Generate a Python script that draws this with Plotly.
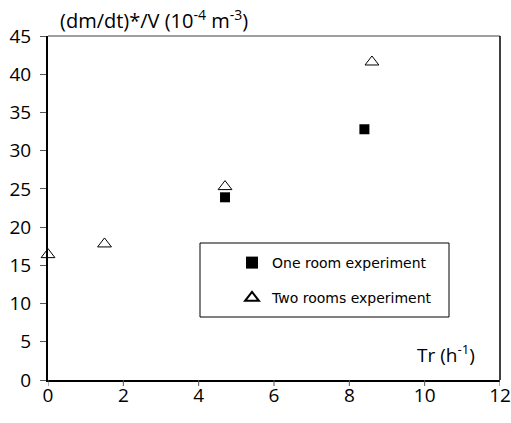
import plotly.graph_objects as go

# Ventilation rate Tr (h^-1) and normalised mass rate (dm/dt)*/V (10^-4 m^-3)
one_room_tr = [4.7, 8.4]
one_room_rate = [23.9, 32.8]
two_rooms_tr = [0.0, 1.5, 4.7, 8.6]
two_rooms_rate = [16.4, 17.8, 25.3, 41.6]

x_ticks = [0, 2, 4, 6, 8, 10, 12]
y_ticks = [0, 5, 10, 15, 20, 25, 30, 35, 40, 45]

FONT = "Open Sans"

# plot area in pixels
L, R, T, B = 48, 500, 36, 380
PW, PH = R - L, B - T
TICK_LEN = 6


def px_x(p):
    return (p - L) / PW


def px_y(p):
    return (B - p) / PH


fig = go.Figure()
fig.add_trace(go.Scatter(
    x=one_room_tr, y=one_room_rate, mode="markers", name="One room experiment",
    legendgroup="a",
    marker=dict(symbol="square", size=10, color="black", line=dict(width=0)),
    cliponaxis=False,
))
fig.add_trace(go.Scatter(
    x=two_rooms_tr, y=two_rooms_rate, mode="markers", name="Two rooms experiment",
    legendgroup="b",
    marker=dict(symbol="triangle-up-open", size=12, color="black", line=dict(width=1)),
    cliponaxis=False,
))

# x tick marks hanging below the axis line
x_tick_marks = [
    dict(type="line", xref="x", yref="paper", x0=v, x1=v, y0=0, y1=-TICK_LEN / PH,
         line=dict(color="#555", width=1))
    for v in x_ticks
]

fig.update_layout(
    width=511, height=423,
    margin=dict(l=L, r=511 - R, t=T, b=423 - B, autoexpand=False),
    paper_bgcolor="white", plot_bgcolor="white",
    font=dict(family=FONT, size=19, color="black"),
    showlegend=True,
    legend=dict(
        x=px_x(232), y=px_y(247), xanchor="left", yanchor="top",
        bgcolor="rgba(0,0,0,0)", borderwidth=0,
        font=dict(family="DejaVu Sans", size=14),
        tracegroupgap=14, itemsizing="constant",
    ),
    xaxis=dict(
        range=[0, 12], tickvals=x_ticks, showgrid=False, zeroline=False,
        showline=True, linecolor="black", linewidth=1.5, automargin=False,
        ticks="", tickfont=dict(size=19), ticklabelstandoff=-3,
    ),
    yaxis=dict(
        range=[0, 45], tickvals=y_ticks, showgrid=False, zeroline=False,
        showline=True, linecolor="black", linewidth=2, automargin=False,
        ticks="outside", ticklen=TICK_LEN, tickcolor="#555", tickwidth=1,
        tickfont=dict(size=19), ticklabelstandoff=5,
    ),
    shapes=[
        # top and right frame lines
        dict(type="line", xref="paper", yref="paper", x0=0, x1=1, y0=1, y1=1,
             line=dict(color="#808080", width=1.5)),
        dict(type="line", xref="paper", yref="paper", x0=1, x1=1, y0=0, y1=1,
             line=dict(color="black", width=1.5)),
        # legend box
        dict(type="rect", xref="paper", yref="paper",
             x0=px_x(200), x1=px_x(449), y0=px_y(317), y1=px_y(243),
             line=dict(color="black", width=1), fillcolor="rgba(0,0,0,0)"),
    ] + x_tick_marks,
    annotations=[
        dict(text="(dm/dt)*/V (10<sup>-4</sup> m<sup>-3</sup>)", xref="paper", yref="paper",
             x=px_x(154), y=px_y(20), xanchor="center", yanchor="middle",
             showarrow=False, font=dict(size=20)),
        dict(text="Tr (h<sup>-1</sup>)", xref="paper", yref="paper",
             x=px_x(446), y=px_y(354), xanchor="center", yanchor="middle",
             showarrow=False, font=dict(size=19)),
    ],
)

fig.write_html("out.html")
